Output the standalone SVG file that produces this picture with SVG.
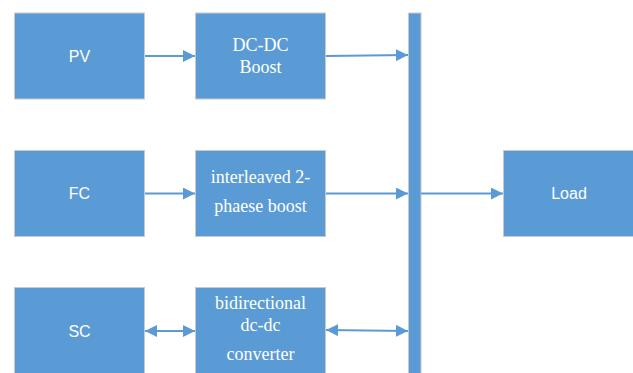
<svg xmlns="http://www.w3.org/2000/svg" width="633" height="373" viewBox="0 0 633 373">
<style>
.box{fill:#5B9BD5;stroke:#C9C9C9;stroke-width:1}
.sans{font-family:"Liberation Sans",Arial,sans-serif;font-size:16px;fill:#FFFFFF;text-anchor:middle}
.serif{font-family:"Liberation Serif","Times New Roman",serif;font-size:18px;fill:#FFFFFF;text-anchor:middle}
.conn{stroke:#5B9BD5;stroke-width:2;fill:none}
</style>
<defs>
<marker id="ah" viewBox="0 0 12 12" refX="12" refY="6" markerWidth="12" markerHeight="12" markerUnits="userSpaceOnUse" orient="auto-start-reverse">
<path d="M0,0 L12,6 L0,12 Z" fill="#5B9BD5"/>
</marker>
</defs>
<rect width="633" height="373" fill="#FFFFFF"/>
<g id="pv"><rect class="box" x="14.5" y="13" width="130" height="86"/><text class="sans" x="79.5" y="62">PV</text></g>
<g id="dcdc"><rect class="box" x="195.5" y="13" width="130" height="86"/><text class="serif" x="260.5" y="51">DC-DC</text><text class="serif" x="260.5" y="73">Boost</text></g>
<g id="fc"><rect class="box" x="14.5" y="150.5" width="130" height="86"/><text class="sans" x="79.5" y="199">FC</text></g>
<g id="interleaved"><rect class="box" x="195.5" y="150.5" width="130" height="86"/><text class="serif" x="260.5" y="183">interleaved 2-</text><text class="serif" x="260.5" y="212">phaese boost</text></g>
<g id="sc"><rect class="box" x="14.5" y="287.5" width="130" height="90"/><text class="sans" x="79.5" y="337">SC</text></g>
<g id="bidir"><rect class="box" x="195.5" y="287.5" width="130" height="90"/><text class="serif" x="260.5" y="309">bidirectional</text><text class="serif" x="260.5" y="331">dc-dc</text><text class="serif" x="260.5" y="360">converter</text></g>
<g id="bus"><rect class="box" x="408.5" y="13" width="12.5" height="365"/></g>
<g id="load"><rect class="box" x="503.5" y="150.5" width="134" height="86"/><text class="sans" x="569" y="199">Load</text></g>
<g id="connectors">
<line class="conn" x1="145" y1="56" x2="195" y2="56" marker-end="url(#ah)"/>
<line class="conn" x1="326" y1="56" x2="408" y2="55" marker-end="url(#ah)"/>
<line class="conn" x1="145" y1="193.5" x2="195" y2="193.5" marker-end="url(#ah)"/>
<line class="conn" x1="326" y1="193.5" x2="408" y2="193.5" marker-end="url(#ah)"/>
<line class="conn" x1="421" y1="193.5" x2="503" y2="193.5" marker-end="url(#ah)"/>
<line class="conn" x1="145" y1="331" x2="195" y2="331" marker-start="url(#ah)" marker-end="url(#ah)"/>
<line class="conn" x1="326" y1="330" x2="408" y2="331" marker-start="url(#ah)" marker-end="url(#ah)"/>
</g>
</svg>
